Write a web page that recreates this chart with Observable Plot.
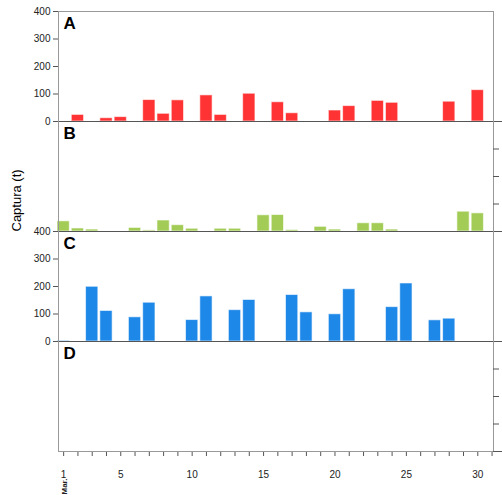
<!DOCTYPE html>
<html><head><meta charset="utf-8">
<script src="https://cdn.jsdelivr.net/npm/d3@7"></script>
<script src="https://cdn.jsdelivr.net/npm/@observablehq/plot@0.6"></script>
<style>body{margin:0;background:#fff;font-family:"Liberation Sans",Arial,sans-serif}</style>
</head><body><div id="chart"></div>
<script>
const panels = ['A', 'B', 'C', 'D']
const colores = {A: '#ff3333', B: '#a3cc57', C: '#1e88e8', D: '#888'}

const diasA = [2, 4, 5, 7, 8, 9, 11, 12, 14, 16, 17, 20, 21, 23, 24, 28, 30]
const capturaA = [24, 12, 16, 78, 28, 77, 95, 24, 101, 70, 30, 40, 56, 75, 68, 72, 114]
const diasB = [1, 2, 3, 6, 7, 8, 9, 10, 12, 13, 15, 16, 17, 19, 20, 22, 23, 24, 29, 30]
const capturaB = [37, 11, 7, 13, 4, 40, 23, 10, 10, 10, 59, 60, 5, 17, 7, 30, 30, 7, 72, 66]
const diasC = [1, 3, 4, 6, 7, 10, 11, 13, 14, 17, 18, 20, 21, 24, 25, 27, 28]
const capturaC = [2, 199, 111, 88, 141, 78, 164, 114, 151, 169, 106, 99, 190, 125, 211, 77, 83]

const ticksY = [0, 100, 200, 300, 400]
const ticksX = [1, 5, 10, 15, 20, 25, 30]
const dias = d3.range(1, 32)

const data = [
  ...diasA.map((d, i) => ({panel: 'A', dia: d, v: capturaA[i]})),
  ...diasB.map((d, i) => ({panel: 'B', dia: d, v: capturaB[i]})),
  ...diasC.map((d, i) => ({panel: 'C', dia: d, v: capturaC[i]})),
]
const X0 = 0.64, X1 = 31.1

// ticks izquierdos (A y C) y derechos (B y D)
const ticksIzq = ['A', 'C'].flatMap(p => ticksY.map(t => ({panel: p, t})))
const ticksDer = ['B', 'D'].flatMap(p => [100, 200, 300].map(t => ({panel: p, t})))

const chart = Plot.plot({
  width: 502, height: 495,
  marginLeft: 58, marginRight: 9, marginTop: 9, marginBottom: 43,
  style: {fontFamily: '"Liberation Sans", Arial, sans-serif', fontSize: '10px', color: '#222'},
  x: {domain: [X0, X1]},
  y: {domain: [0, 400], axis: null},
  fy: {domain: panels, axis: null, padding: 0},
  marks: [
    Plot.rectY(data, {
      x1: d => d.dia - 0.43, x2: d => d.dia + 0.43, y: 'v', fy: 'panel',
      fill: d => colores[d.panel], stroke: '#fff', strokeOpacity: 0.6, strokeWidth: 1
    }),
    Plot.ruleY(panels, {y: 0, fy: d => d, x1: X0, x2: X1, insetRight: -9, stroke: '#555', strokeWidth: 1.2}),
    Plot.ruleY(['A'], {y: 400, fy: d => d, x1: X0, x2: X1, stroke: '#999'}),
    Plot.ruleX(panels, {x: X0, fy: d => d, stroke: '#999'}),
    Plot.ruleX(panels, {x: X1, fy: d => d, stroke: '#999'}),
    Plot.ruleY(ticksIzq, {y: 't', fy: 'panel', x1: X0, x2: X0, insetLeft: -5, stroke: '#555'}),
    Plot.text(ticksIzq, {y: 't', fy: 'panel', x: X0, dx: -8, text: d => String(d.t), textAnchor: 'end', fill: '#222'}),
    Plot.ruleY(ticksDer, {y: 't', fy: 'panel', x1: X1, x2: X1, insetRight: -6, stroke: '#555'}),
    Plot.text(panels, {fy: d => d, text: d => d, frameAnchor: 'top-left', dx: 5, dy: 5, fontSize: 17, fontWeight: 'bold', fill: '#000'}),
    Plot.text(['Captura (t)'], {fy: ['B'], frameAnchor: 'bottom-left', dx: -38, rotate: -90, fontSize: 13, fill: '#000'}),
    Plot.axisX({ticks: dias, tickSize: 5, tickPadding: 14, tickFormat: d => ticksX.includes(d) ? d : '', stroke: '#555', fill: '#222'}),
    Plot.ruleY(['D'], {y: 0, fy: d => d, x1: X0, x2: X1, stroke: '#999'}),
    Plot.text(['Mar.'], {fy: ['D'], x: 1, frameAnchor: 'bottom', dy: 27, dx: 3, rotate: -90, textAnchor: 'end', fontWeight: 'bold', fontSize: 8, fill: '#222'}),
  ]
})
document.getElementById('chart').append(chart)
</script></body></html>
